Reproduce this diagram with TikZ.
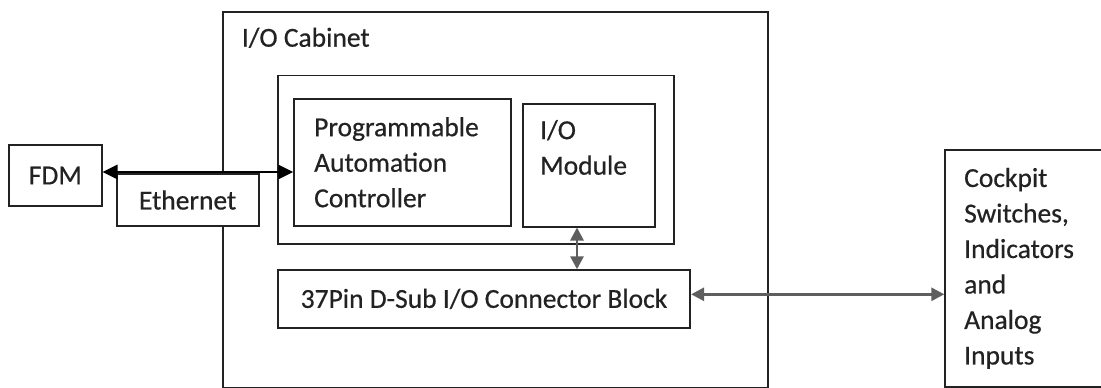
\documentclass[tikz,border=0pt]{standalone}
\usepackage{fontspec}
\setmainfont{Carlito}[FakeBold=0.5]
\usetikzlibrary{arrows.meta}
\definecolor{ink}{HTML}{222222}
\definecolor{arrgray}{HTML}{5E5E5E}
\begin{document}
\begin{tikzpicture}[x=1pt,y=-1pt,
  box/.style={draw=ink, line width=1.8pt, anchor=north west, inner sep=0pt,
    text=ink, font=\fontsize{27.5}{35.5}\selectfont, align=left},
  lbl/.style={text=ink, font=\fontsize{27.5}{35.5}\selectfont, inner sep=0pt},
  blk/.style={draw=black, line width=2.8pt,
    {Triangle[length=15pt,width=14pt]}-{Triangle[length=15pt,width=14pt]}},
  gry/.style={draw=arrgray, line width=2.8pt,
    {Triangle[length=13pt,width=13pt]}-{Triangle[length=13pt,width=13pt]}}
]
\fill[white] (0,0) rectangle (1101,388);
\useasboundingbox (0,0) rectangle (1101,388);
\clip (0,0) rectangle (1101,388);

% I/O cabinet
\node[box, minimum width=545, minimum height=376] (cab) at (221.7,11) {};
\node[lbl, anchor=base west] (cabtitle) at (241.7,46.7) {I/O Cabinet};

% inner group
\node[box, minimum width=396, minimum height=168.2] (grp) at (276.7,74.5) {};
\node[box, text width=176.7, inner xsep=20, minimum height=127.3] (pac) at (293.3,97.7)
  {Programmable\\Automation\\Controller};
\node[box, text width=97, inner xsep=17.6, minimum height=123] (iom) at (521.7,102.7)
  {I/O\\Module\\\mbox{}};

% connector block
\node[box, minimum width=412.3, minimum height=57.4] (dsub) at (277,269.3)
  {37Pin D-Sub I/O Connector Block};

% outside boxes
\node[box, minimum width=92.4, minimum height=60.7] (fdm) at (8.3,144.3) {FDM};
\node[box, fill=white, minimum width=142, minimum height=51.7] (eth) at (115.7,173.3) {Ethernet};
\node[box, text width=130, inner xsep=19, minimum height=237] (ck) at (944.3,149)
  {Cockpit\\Switches,\\Indicators\\and\\Analog\\Inputs};

% connectors
\coordinate (ya) at (0,172);
\coordinate (vx) at (577,0);
\coordinate (hy) at (0,294.3);
\draw[blk] (fdm.east |- ya) -- (pac.west |- ya);
\draw[gry] (iom.south -| vx) -- (dsub.north -| vx);
\draw[gry] (dsub.east |- hy) -- (ck.west |- hy);
\end{tikzpicture}
\end{document}
